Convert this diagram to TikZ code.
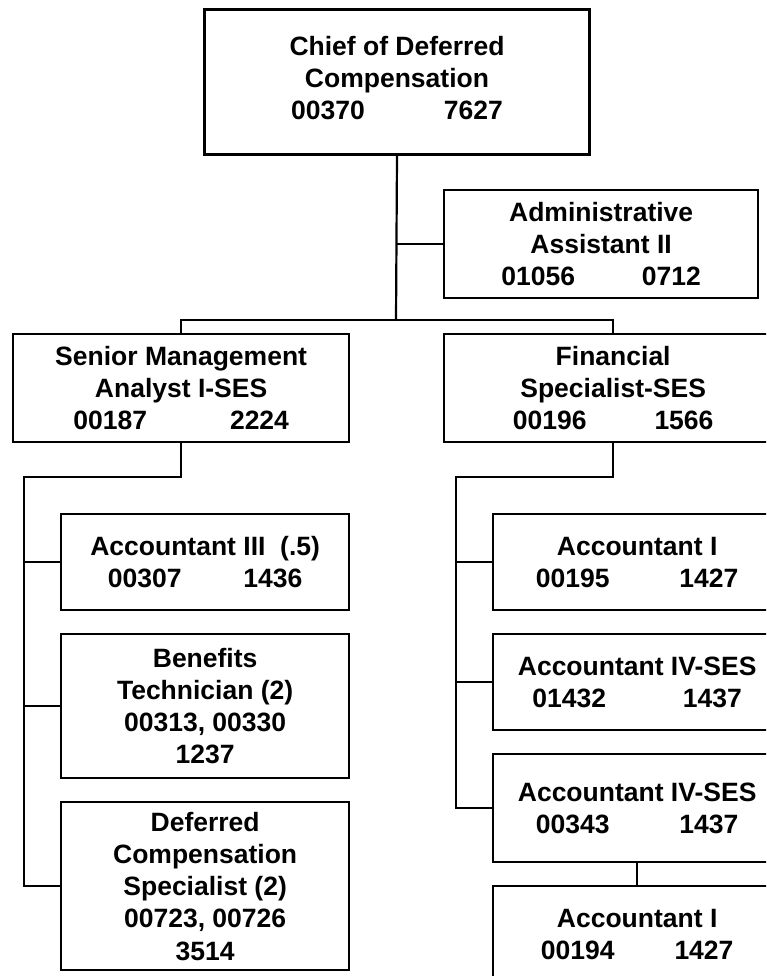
\documentclass[tikz,border=0pt]{standalone}
\usepackage{fontspec}
\setmainfont{Liberation Sans}
\begin{document}
\begin{tikzpicture}[x=1pt,y=-1pt,
  posbox/.style={draw=black, line width=2.3pt, rectangle, anchor=north west,
    inner sep=0pt, align=center, text=black,
    font=\bfseries\fontsize{26.5}{32.2}\selectfont},
  link/.style={draw=black, line width=2.2pt}]
\useasboundingbox (0,0) rectangle (766,976);
\clip (0,0) rectangle (766,976);

% positions
\node[posbox, line width=3pt, minimum width=385pt, minimum height=145pt] (chief) at (203,8)
  {Chief of Deferred\\Compensation\\00370\hspace{79pt}7627\rule[-8pt]{0pt}{8pt}};
\node[posbox, minimum width=314pt, minimum height=108pt] (admin) at (443,189)
  {Administrative\\Assistant II\\01056\hspace{67pt}0712};
\node[posbox, minimum width=336pt, minimum height=108pt] (senior) at (12,333)
  {Senior Management\\Analyst I-SES\\00187\hspace{83pt}2224};
\node[posbox, minimum width=338pt, minimum height=108pt] (fin) at (443,333)
  {Financial\\Specialist-SES\\00196\hspace{68pt}1566};

\node[posbox, minimum width=288pt, minimum height=96pt] (acc3) at (60,513)
  {Accountant III\ \ (.5)\\00307\hspace{62pt}1436};
\node[posbox, minimum width=288pt, minimum height=144pt] (ben) at (60,633)
  {Benefits\\Technician (2)\\00313, 00330\\1237};
\node[posbox, minimum width=288pt, minimum height=168pt] (dcs) at (60,801)
  {Deferred\\Compensation\\Specialist (2)\\00723, 00726\\3514};

\node[posbox, minimum width=288pt, minimum height=96pt] (acc1) at (492,513)
  {Accountant I\\00195\hspace{70pt}1427};
\node[posbox, minimum width=288pt, minimum height=96pt] (acc4a) at (492,633)
  {Accountant IV-SES\\01432\hspace{77pt}1437};
\node[posbox, minimum width=288pt, minimum height=108pt] (acc4b) at (492,753)
  {Accountant IV-SES\\00343\hspace{70pt}1437};
\node[posbox, minimum width=288pt, minimum height=96pt] (acc1b) at (492,885)
  {Accountant I\\00194\hspace{60pt}1427};

% bus lines
\coordinate (bus) at (396,320);
\coordinate (lbus) at (24,477);
\coordinate (rbus) at (456,477);

% top level
\draw[link] (chief.south) -- (bus);
\draw[link] (chief.south |- admin.west) -- (admin.west);
\draw[link] (senior.north) -- (senior.north |- bus) -- (fin.north |- bus) -- (fin.north);

% left branch
\draw[link] (senior.south) -- (senior.south |- lbus) -- (lbus) -- (lbus |- dcs.west) -- (dcs.west);
\draw[link] (lbus |- acc3.west) -- (acc3.west);
\draw[link] (lbus |- ben.west) -- (ben.west);

% right branch
\draw[link] (fin.south) -- (fin.south |- rbus) -- (rbus) -- (rbus |- acc4b.west) -- (acc4b.west);
\draw[link] (rbus |- acc1.west) -- (acc1.west);
\draw[link] (rbus |- acc4a.west) -- (acc4a.west);
\draw[link] (acc4b.south) -- (acc1b.north);
\end{tikzpicture}
\end{document}
